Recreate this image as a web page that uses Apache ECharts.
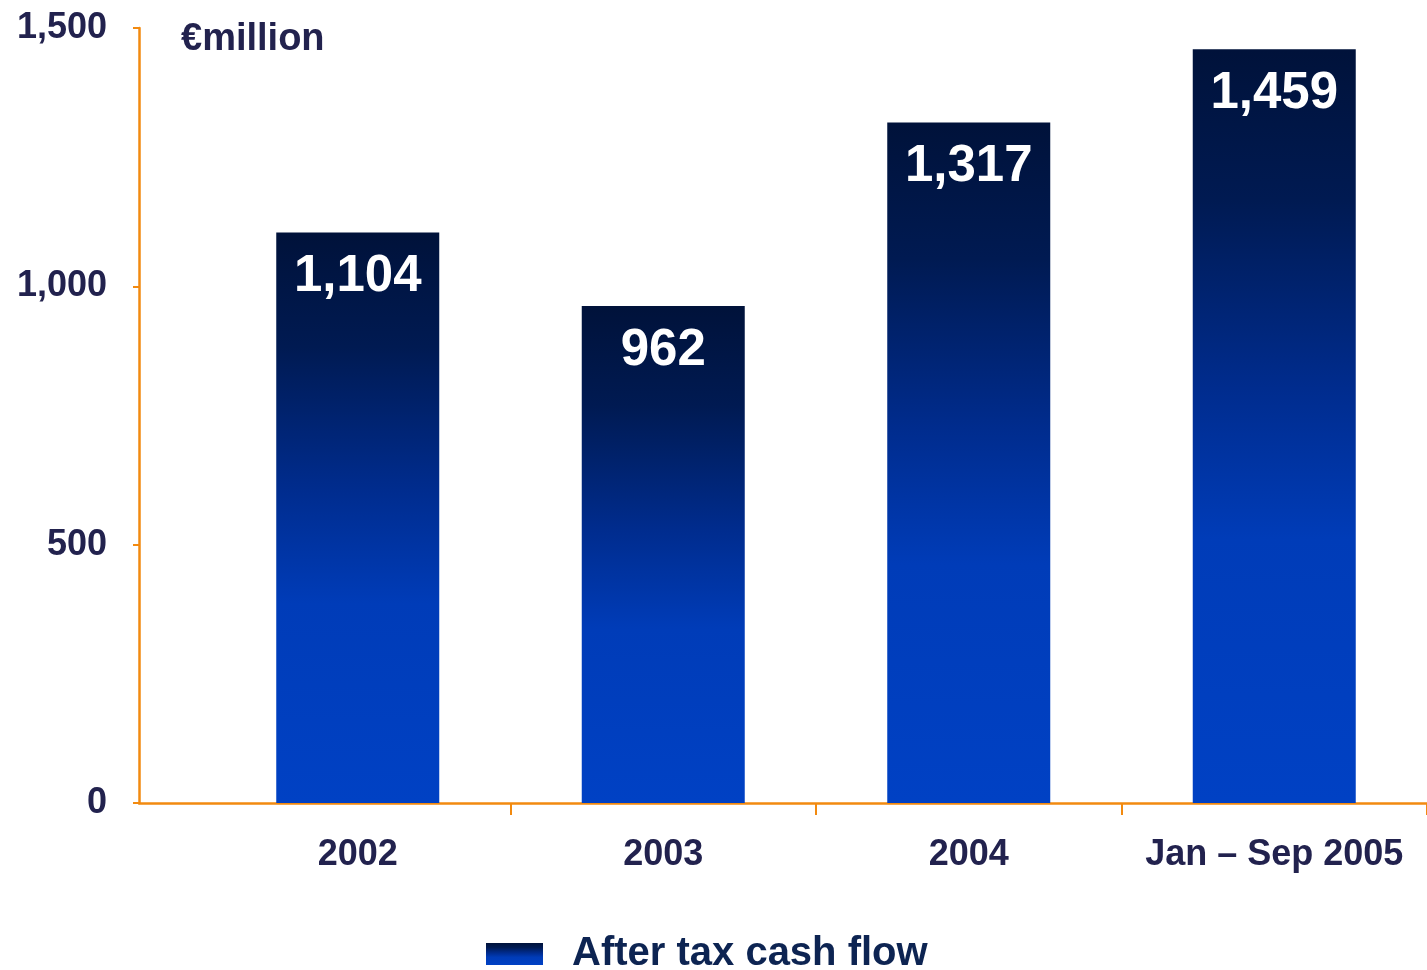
<!DOCTYPE html>
<html>
<head>
<meta charset="utf-8">
<title>After tax cash flow</title>
<script src="https://cdn.jsdelivr.net/npm/echarts@6/dist/echarts.min.js"></script>
<style>
  html, body { margin: 0; padding: 0; background: #ffffff; }
  #chart { width: 1427px; height: 970px; }
</style>
</head>
<body>
<div id="chart"></div>
<script>
// Periods and after-tax cash flow (€ million)
var categories = ['2002', '2003', '2004', 'Jan – Sep 2005'];
var cashFlow = [1104, 962, 1317, 1459];
var yTicks = [0, 500, 1000, 1500];
var seriesName = 'After tax cash flow';

var ORANGE = '#f28a10';
var TEXT = '#22224e';
var FONT = '"Liberation Sans", Arial, sans-serif';

var barGradient = new echarts.graphic.LinearGradient(0, 0, 0, 1, [
  { offset: 0, color: '#00123a' },
  { offset: 0.2, color: '#001a52' },
  { offset: 0.45, color: '#002c8e' },
  { offset: 0.65, color: '#003cb8' },
  { offset: 1, color: '#0041c4' }
]);

var chart = echarts.init(document.getElementById('chart'), null, { renderer: 'canvas' });

chart.setOption({
  animation: false,
  backgroundColor: '#ffffff',
  textStyle: { fontFamily: FONT },
  title: {
    text: '€million',
    left: 176,
    top: 16,
    textStyle: { fontFamily: FONT, fontSize: 38, fontWeight: 'bold', color: TEXT }
  },
  legend: {
    data: [seriesName],
    left: 486,
    top: 934,
    padding: 0,
    itemWidth: 57,
    itemHeight: 22,
    icon: 'rect',
    textStyle: {
      fontFamily: FONT, fontSize: 40, fontWeight: 'bold', color: '#0d2452',
      padding: [0, 0, 0, 24]
    }
  },
  grid: [
    // bars
    { left: 205, right: 0, top: 28, bottom: 167, containLabel: false },
    // axis frame starting at the y-axis line
    { left: 139, right: 0, top: 28, bottom: 167, containLabel: false }
  ],
  xAxis: [
    {
      gridIndex: 0,
      type: 'category',
      data: categories,
      boundaryGap: true,
      axisLine: { show: false },
      axisTick: {
        show: true, length: 12,
        lineStyle: { color: ORANGE, width: 2 },
        interval: function (i) { return i > 0; }
      },
      axisLabel: {
        interval: 0,
        margin: 34,
        fontFamily: FONT, fontSize: 36, fontWeight: 'bold', color: TEXT
      }
    },
    {
      gridIndex: 1,
      type: 'category',
      data: categories,
      axisLine: { show: true, lineStyle: { color: ORANGE, width: 2.5 } },
      axisTick: { show: false },
      axisLabel: { show: false }
    }
  ],
  yAxis: [
    {
      gridIndex: 0,
      type: 'value',
      min: 0, max: 1500, interval: 500,
      show: false
    },
    {
      gridIndex: 1,
      type: 'value',
      min: yTicks[0], max: yTicks[yTicks.length - 1], interval: 500,
      axisLine: { show: true, lineStyle: { color: ORANGE, width: 2.5 } },
      axisTick: { show: true, length: 6, lineStyle: { color: ORANGE, width: 2 } },
      splitLine: { show: false },
      axisLabel: {
        margin: 32,
        fontFamily: FONT, fontSize: 36, fontWeight: 'bold', color: TEXT,
        formatter: function (v) { return v.toLocaleString('en-US'); }
      }
    }
  ],
  series: [
    {
      name: seriesName,
      type: 'bar',
      xAxisIndex: 0,
      yAxisIndex: 0,
      data: cashFlow,
      barWidth: 163,
      itemStyle: { color: barGradient },
      label: {
        show: true,
        position: 'insideTop',
        distance: 19,
        fontFamily: FONT,
        fontSize: 51,
        fontWeight: 'bold',
        color: '#ffffff',
        formatter: function (p) { return p.value.toLocaleString('en-US'); }
      },
      z: 1
    }
  ]
});
</script>
</body>
</html>
